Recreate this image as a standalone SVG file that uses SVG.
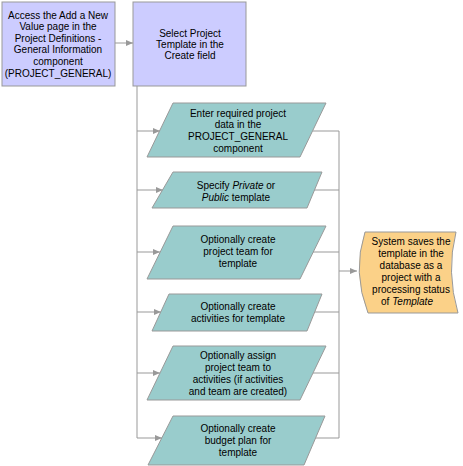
<svg xmlns="http://www.w3.org/2000/svg" width="463" height="466" viewBox="0 0 463 466">
<defs>
<marker id="ah" markerWidth="8" markerHeight="6" refX="7" refY="3" orient="auto" markerUnits="userSpaceOnUse">
<path d="M0,0 L7,3 L0,6 Z" fill="#999999"/>
</marker>
<style>
.box{fill:#CCCCFF;stroke:#999999;stroke-width:1}
.para{fill:#99CCCC;stroke:#999999;stroke-width:1}
.store{fill:#FBD188;stroke:#999999;stroke-width:1}
.ln{fill:none;stroke:#999999;stroke-width:1}
.ar{fill:none;stroke:#999999;stroke-width:1;marker-end:url(#ah)}
text{font-family:"Liberation Sans",Arial,sans-serif;font-size:10px;fill:#000;text-anchor:middle}
</style>
</defs>
<rect width="463" height="466" fill="#ffffff"/>
<g id="connectors">
<path class="ar" d="M115,43 H133"/>
<path class="ln" d="M137,86 V438"/>
<path class="ar" d="M137,131 H160"/>
<path class="ar" d="M137,190 H163"/>
<path class="ar" d="M137,252 H160"/>
<path class="ar" d="M137,312 H161"/>
<path class="ar" d="M137,373 H160"/>
<path class="ar" d="M137,438 H162"/>
<path class="ln" d="M313,131 H339 V438 H304"/>
<path class="ln" d="M314,190 H339"/>
<path class="ln" d="M313,252 H339"/>
<path class="ln" d="M314,312 H339"/>
<path class="ln" d="M313,373 H339"/>
<path class="ar" d="M339,271 H357"/>
</g>
<g id="n1">
<rect class="box" x="2" y="2" width="113" height="84"/>
<text x="58" y="18.5">Access the Add a New</text>
<text x="58" y="30">Value page in the</text>
<text x="58" y="41.5">Project Definitions -</text>
<text x="58" y="53">General Information</text>
<text x="58" y="65">component</text>
<text x="58" y="76.5">(PROJECT_GENERAL)</text>
</g>
<g id="n2">
<rect class="box" x="133" y="2" width="113" height="84"/>
<text x="190" y="36.5">Select Project</text>
<text x="190" y="47.5">Template in the</text>
<text x="190" y="58.5">Create  field</text>
</g>
<g id="n3">
<polygon class="para" points="173,103 326,103 300,157 147,157"/>
<text x="238" y="116.5">Enter required project</text>
<text x="238" y="128">data in the</text>
<text x="238" y="139.5">PROJECT_GENERAL</text>
<text x="238" y="151.5">component</text>
</g>
<g id="n4">
<polygon class="para" points="173,172 322,172 307,208 152,208"/>
<text x="236" y="188.5">Specify <tspan font-style="italic">Private</tspan> or</text>
<text x="236" y="200.5"><tspan font-style="italic">Public</tspan> template</text>
</g>
<g id="n5">
<polygon class="para" points="173,226 326,226 300,279 147,279"/>
<text x="238" y="242.5">Optionally create</text>
<text x="238" y="255">project team for</text>
<text x="238" y="266.5">template</text>
</g>
<g id="n6">
<polygon class="para" points="169,294 322,294 307,331 152,331"/>
<text x="238" y="309.5">Optionally create</text>
<text x="238" y="321.5">activities for template</text>
</g>
<g id="n7">
<polygon class="para" points="173,346 326,346 300,400 147,400"/>
<text x="238" y="358.5">Optionally assign</text>
<text x="238" y="370.5">project team to</text>
<text x="238" y="382.5">activities (if activities</text>
<text x="238" y="394.5">and team are created)</text>
</g>
<g id="n8">
<polygon class="para" points="173,416 325,416 304,465 148,465"/>
<text x="238" y="431.5">Optionally create</text>
<text x="238" y="443.5">budget plan for</text>
<text x="238" y="455.5">template</text>
</g>
<g id="n9">
<path class="store" d="M365,232 L456,232 Q446,272 458,313 L368,313 Q352,272 365,232 Z"/>
<text x="411" y="244.5">System saves the</text>
<text x="411" y="256.5">template in the</text>
<text x="411" y="268.5">database as a</text>
<text x="411" y="280.5">project with a</text>
<text x="411" y="292.5">processing status</text>
<text x="407" y="304.5">of <tspan font-style="italic">Template</tspan></text>
</g>
</svg>
